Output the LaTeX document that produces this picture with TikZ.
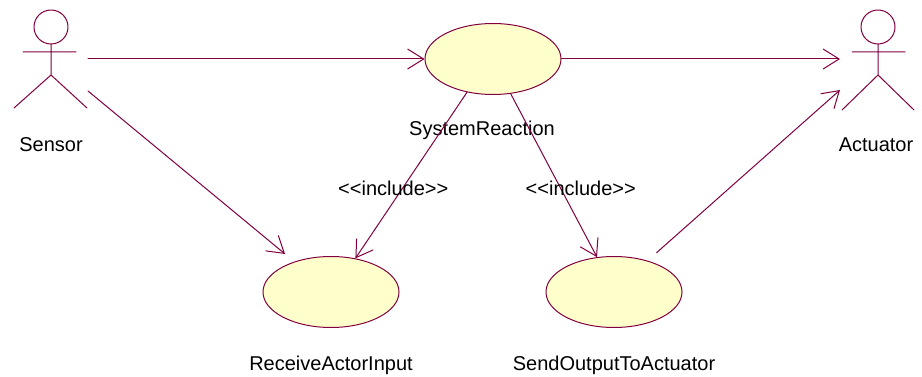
\documentclass[tikz,border=0pt]{standalone}
\usepackage{fontspec}
\setmainfont{Liberation Sans}
\usetikzlibrary{shapes.geometric,arrows.meta}
\definecolor{umlred}{RGB}{128,0,64}
\definecolor{umlfill}{RGB}{255,255,204}
\begin{document}
\begin{tikzpicture}[x=1pt,y=-1pt,>={Straight Barb[length=16pt,width=20pt]},line join=round,line cap=round,font=\fontsize{20}{24}\selectfont,
	usecase/.style={ellipse,draw=umlred,fill=umlfill,line width=1pt,minimum width=136pt,minimum height=71pt,inner sep=0pt},
	assoc/.style={->,draw=umlred,line width=1pt},
	actor/.style={draw=umlred,line width=1pt}]
	\useasboundingbox (0,0) rectangle (922,377);
	\node[usecase] (sysreact) at (493,59) {};
	\node[usecase] (recvin) at (331,292) {};
	\node[usecase] (sendout) at (614,292) {};
	\node (sysreactlbl) at (482,130) {SystemReaction};
	\node (recvinlbl) at (331,365) {ReceiveActorInput};
	\node (sendoutlbl) at (614,365) {SendOutputToActuator};
	\draw[actor] (51,27) circle (17pt) (23,52)--(76,52) (51,44)--(51,75)--(14,108) (51,75)--(87,108);
	\draw[actor] (878,27) circle (17pt) (852,52)--(905,52) (878,44)--(878,75)--(842,110) (878,75)--(914,110);
	\node (sensorlbl) at (51,145) {Sensor};
	\node (actuatorlbl) at (876,145) {Actuator};
	\coordinate (sensorA) at (88,59);
	\coordinate (sensorB) at (88,91);
	\coordinate (actuatorA) at (840,59);
	\coordinate (actuatorB) at (840,90);
	\draw[assoc] (sensorA)--(sysreact.west);
	\draw[assoc,shorten >=12pt] (sensorB)--(recvin);
	\draw[assoc] (sysreact.east)--(actuatorA);
	\draw[assoc,shorten <=12pt] (sendout.43)--(actuatorB);
	\draw[assoc] (sysreact.232)--node[pos=0.58,xshift=-9pt]{\textless{}\textless{}include\textgreater{}\textgreater}(recvin.54);
	\draw[assoc] (sysreact.297)--node[pos=0.58,xshift=20pt]{\textless{}\textless{}include\textgreater{}\textgreater}(sendout.116);
\end{tikzpicture}
\end{document}
